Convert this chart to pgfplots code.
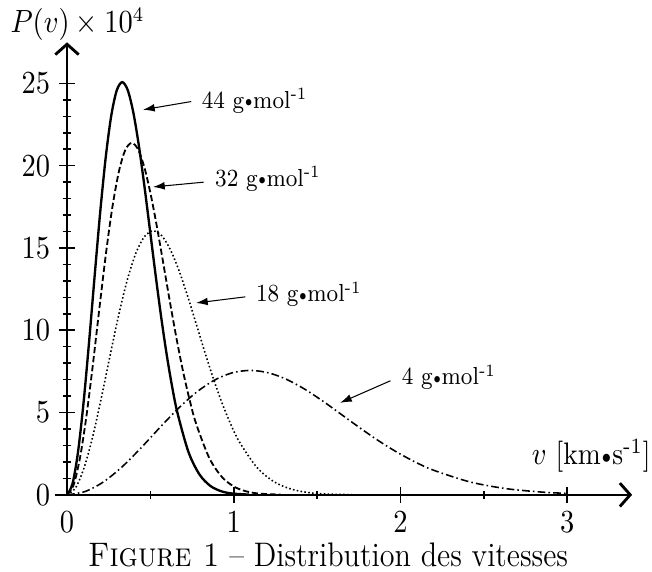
\documentclass[border=0pt]{standalone}
\usepackage{pgfplots}
\pgfplotsset{compat=1.18}
\usetikzlibrary{arrows.meta}
\newcommand{\bul}{\kern0.04em\raisebox{0.12ex}{\scalebox{0.65}{$\bullet$}}\kern0.04em}
\newcommand{\vs}[1]{\scalebox{1}[1.13]{#1}}
\newcommand{\tickfont}{\fontsize{10.8}{13}\selectfont}
\begin{document}
\begin{tikzpicture}
\begin{axis}[
  x=64.2pt, y=6.337pt,
  axis lines=middle,
  xmin=-0.07, xmax=3.39, ymin=0, ymax=27.5,
  xtick={0,1,2,3}, ytick={0,5,10,15,20,25},
  minor x tick num=1, minor y tick num=4,
  tick align=center,
  major tick length=6pt, minor tick length=3.3pt,
  tick style={line width=0.6pt, black},
  axis line style={line width=0.7pt, -{Straight Barb[length=4pt,width=9pt,line width=1.1pt]}},
  tick label style={font=\tickfont},
  xticklabel={\vs{$\pgfmathprintnumber{\tick}$}},
  yticklabel={\vs{$\pgfmathprintnumber{\tick}$}},
  clip=false,
]
% 44 g/mol
\addplot[black, line width=0.9pt, smooth] coordinates {
(0,0) (0.0331,0.675) (0.0662,2.620) (0.0993,5.607) (0.1324,9.295) (0.1655,13.273)
(0.1986,17.122) (0.2317,20.464) (0.2648,23.005) (0.2979,24.564) (0.3311,25.078)
(0.3642,24.597) (0.3973,23.258) (0.4304,21.258) (0.4635,18.820) (0.4966,16.166)
(0.5297,13.491) (0.5628,10.949) (0.5959,8.650) (0.6290,6.657) (0.6621,4.994)
(0.7283,2.609) (0.7945,1.237) (0.8607,0.534) (0.9269,0.211) (0.9932,0.076) (1.0925,0.014)
};
% 32 g/mol
\addplot[black, line width=0.7pt, dash pattern=on 2.4pt off 1.1pt, smooth] coordinates {
(0,0) (0.0388,0.576) (0.0776,2.234) (0.1165,4.782) (0.1553,7.927) (0.1941,11.320)
(0.2329,14.603) (0.2717,17.453) (0.3106,19.620) (0.3494,20.950) (0.3882,21.389)
(0.4270,20.978) (0.4658,19.836) (0.5046,18.130) (0.5435,16.051) (0.5823,13.788)
(0.6211,11.506) (0.6599,9.338) (0.6987,7.377) (0.7376,5.678) (0.7764,4.260)
(0.8540,2.225) (0.9317,1.055) (1.0093,0.456) (1.0869,0.180) (1.1646,0.065) (1.2810,0.012)
};
% 18 g/mol
\addplot[black, line width=0.6pt, dash pattern=on 0.6pt off 0.9pt, smooth] coordinates {
(0,0) (0.0518,0.432) (0.1035,1.676) (0.1553,3.586) (0.2070,5.945) (0.2588,8.489)
(0.3105,10.951) (0.3623,13.088) (0.4141,14.714) (0.4658,15.711) (0.5176,16.040)
(0.5693,15.732) (0.6211,14.875) (0.6729,13.596) (0.7246,12.037) (0.7764,10.340)
(0.8281,8.628) (0.8799,7.003) (0.9316,5.532) (0.9834,4.258) (1.0352,3.194)
(1.1387,1.669) (1.2422,0.791) (1.3457,0.342) (1.4492,0.135) (1.5527,0.048) (1.7080,0.009)
};
% 4 g/mol
\addplot[black, line width=0.6pt, dash pattern=on 3pt off 1.2pt on 0.6pt off 1.2pt, smooth] coordinates {
(0,0) (0.1098,0.204) (0.2196,0.790) (0.3294,1.691) (0.4392,2.802) (0.5490,4.002)
(0.6588,5.162) (0.7686,6.170) (0.8784,6.936) (0.9882,7.406) (1.0980,7.561)
(1.2078,7.416) (1.3176,7.013) (1.4274,6.410) (1.5372,5.675) (1.6470,4.874)
(1.7568,4.068) (1.8665,3.301) (1.9763,2.608) (2.0861,2.007) (2.1959,1.506)
(2.4155,0.787) (2.6351,0.373) (2.8547,0.161) (3.0,0.088)
};
% zero tick labels
\node[anchor=east, font=\tickfont, xshift=-3pt] at (axis cs:0,0) {\vs{$0$}};
\node[anchor=north, font=\tickfont, yshift=-3pt] at (axis cs:0,0) {\vs{$0$}};
% annotations
\draw[-{Latex[length=4.5pt,width=3pt]}, line width=0.4pt] (axis cs:0.745,23.9) -- (axis cs:0.456,23.4);
\node[anchor=west, font=\fontsize{8.4}{10}\selectfont, inner sep=1pt] at (axis cs:0.79,23.95) {\vs{44 g\bul mol\textsuperscript{-1}}};
\draw[-{Latex[length=4.5pt,width=3pt]}, line width=0.4pt] (axis cs:0.82,19.0) -- (axis cs:0.516,18.71);
\node[anchor=west, font=\fontsize{8.4}{10}\selectfont, inner sep=1pt] at (axis cs:0.87,19.2) {\vs{32 g\bul mol\textsuperscript{-1}}};
\draw[-{Latex[length=4.5pt,width=3pt]}, line width=0.4pt] (axis cs:1.07,12.03) -- (axis cs:0.774,11.66);
\node[anchor=west, font=\fontsize{8.4}{10}\selectfont, inner sep=1pt] at (axis cs:1.115,12.2) {\vs{18 g\bul mol\textsuperscript{-1}}};
\draw[-{Latex[length=4.5pt,width=3pt]}, line width=0.4pt] (axis cs:1.94,6.93) -- (axis cs:1.638,5.59);
\node[anchor=west, font=\fontsize{8.4}{10}\selectfont, inner sep=1pt] at (axis cs:1.99,7.15) {\vs{4 g\bul mol\textsuperscript{-1}}};
% labels
\node[anchor=base east, font=\fontsize{10.6}{12}\selectfont, inner sep=0pt] at (axis cs:3.503,1.82) {\vs{$v$ [km\bul s\textsuperscript{-1}]}};
\node[anchor=base west, font=\fontsize{10.5}{12}\selectfont, inner sep=0pt] at (axis cs:-0.342,28.07) {\vs{$P(v)\times10^4$}};
\node[anchor=base, font=\fontsize{11.6}{14}\selectfont, inner sep=0pt, yshift=-27.7pt] at (axis cs:1.566,0) {\vs{\textsc{Figure 1} -- Distribution des vitesses}};
% bounding box matching the reference frame
\path (axis cs:-0.402,30.07) rectangle (axis cs:3.509,-4.68);
\end{axis}
\end{tikzpicture}
\end{document}
